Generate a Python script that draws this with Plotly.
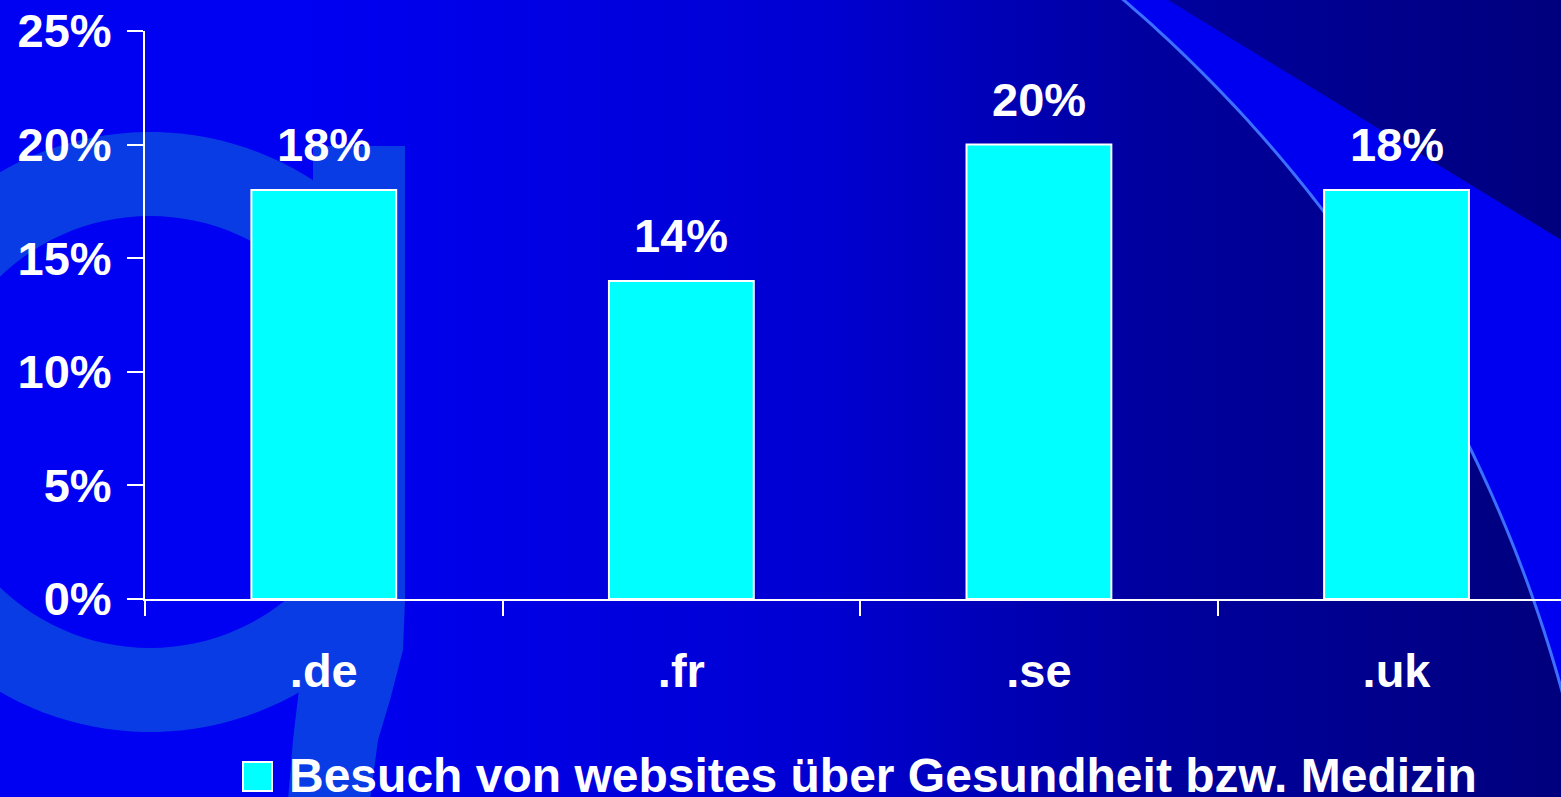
import math
import plotly.graph_objects as go

# ---------------- data ----------------
categories = [".de", ".fr", ".se", ".uk"]
values = [18, 14, 20, 18]
series_name = "Besuch von websites über Gesundheit bzw. Medizin"
y_ticks = [0, 5, 10, 15, 20, 25]
y_tick_labels = ["0%", "5%", "10%", "15%", "20%", "25%"]

# ---------------- layout geometry (pixels) ----------------
FW, FH = 1561, 797
L, R, T, B = 145, 1561, 31, 599
PW, PH = R - L, B - T


def px(x):
    return (x - L) / PW


def py(y):
    return (B - y) / PH


FONT = "Liberation Sans, Arial, Helvetica, sans-serif"
WHITE = "#FFFFFF"
CYAN = "#00FFFF"

shapes = []

# background horizontal gradient built from thin strips
grad_stops = [(0, 242), (300, 242), (820, 210), (1140, 160), (1530, 128), (1561, 126)]


def blue_at(x):
    for (x0, b0), (x1, b1) in zip(grad_stops[:-1], grad_stops[1:]):
        if x0 <= x <= x1:
            return b0 + (b1 - b0) * (x - x0) / (x1 - x0)
    return grad_stops[-1][1]


step = 8
for x in range(0, FW, step):
    b = int(round(blue_at(x + step / 2)))
    shapes.append(dict(type="rect", xref="paper", yref="paper", layer="below",
                       x0=px(x), x1=px(x + step + 1), y0=py(FH + 2), y1=py(-2),
                       fillcolor=f"rgb(0,0,{b})", line=dict(width=0)))

G_COLOR = "rgb(10,60,230)"
# "g" letter: bowl (annulus clipped at stem's right edge) + stem
cx, cy, ro, ri = 150, 432, 300, 216
stem_right = 405
a_lim = math.acos((stem_right - cx) / ro)
n = 120
outer = []
for i in range(n + 1):
    t = a_lim + (2 * math.pi - 2 * a_lim) * i / n
    outer.append((cx + ro * math.cos(t), cy - ro * math.sin(t)))
inner = []
for i in range(n + 1):
    t = 2 * math.pi * i / n
    inner.append((cx + ri * math.cos(-t), cy - ri * math.sin(-t)))


def path_of(pts, close=True):
    s = "M" + " L".join(f"{px(a):.5f},{py(b):.5f}" for a, b in pts)
    return s + (" Z" if close else "")


shapes.append(dict(type="path", xref="paper", yref="paper", layer="below",
                   path=path_of(outer) + " " + path_of(inner),
                   fillcolor=G_COLOR, line=dict(width=0)))
stem = [(313, 146), (405, 146), (405, 600), (403, 650), (390, 700), (378, 740),
        (370, 800), (288, 800), (293, 740), (303, 655), (313, 560)]
shapes.append(dict(type="path", xref="paper", yref="paper", layer="below",
                   path=path_of(stem), fillcolor=G_COLOR, line=dict(width=0)))

# top-right decorative swoosh
acx, acy, ar = 213, 1062, 1399
t0, t1 = math.radians(50.6), math.radians(13.8)
arc = []
m = 80
for i in range(m + 1):
    t = t0 + (t1 - t0) * i / m
    arc.append((acx + ar * math.cos(t), acy - ar * math.sin(t)))
slope = 0.61
x_top = 1168 + (arc[0][1]) / slope
wedge = arc + [(1620, arc[-1][1]), (1620, (1620 - 1168) * slope), (x_top, arc[0][1])]
shapes.append(dict(type="path", xref="paper", yref="paper", layer="below",
                   path=path_of(wedge), fillcolor="rgb(0,0,240)", line=dict(width=0)))
shapes.append(dict(type="path", xref="paper", yref="paper", layer="below",
                   path=path_of(arc, close=False), fillcolor="rgba(0,0,0,0)",
                   line=dict(width=3, color="rgb(60,110,255)")))

# manual legend key
shapes.append(dict(type="rect", xref="paper", yref="paper", layer="above",
                   x0=px(243), x1=px(272), y0=py(791), y1=py(762),
                   fillcolor=CYAN, line=dict(width=2, color=WHITE)))

fig = go.Figure()
fig.add_trace(go.Bar(
    x=categories, y=values, name=series_name, width=0.405,
    marker=dict(color=CYAN, line=dict(color=WHITE, width=2)),
    showlegend=False, hoverinfo="x+y",
))

annotations = []
for c, v in zip(categories, values):
    annotations.append(dict(x=c, y=v, xref="x", yref="y", text=f"{v}%",
                            showarrow=False, yanchor="bottom", yshift=17,
                            font=dict(family=FONT, size=47, color=WHITE, weight="bold")))
annotations.append(dict(x=px(287), y=py(776), xref="paper", yref="paper",
                        text=series_name, showarrow=False, xanchor="left", yanchor="middle",
                        font=dict(family=FONT, size=48, color=WHITE, weight="bold")))

fig.update_layout(
    width=FW, height=FH,
    margin=dict(l=L, r=FW - R, t=T, b=FH - B, pad=0),
    paper_bgcolor="rgb(0,0,200)",
    plot_bgcolor="rgba(0,0,0,0)",
    shapes=shapes,
    annotations=annotations,
    showlegend=False,
    bargap=0.6,
    font=dict(family=FONT, color=WHITE),
)
fig.update_xaxes(
    type="category", range=[-0.5, 3.46], tickson="boundaries",
    ticks="outside", ticklen=15, tickwidth=2, tickcolor=WHITE,
    showline=True, linecolor=WHITE, linewidth=2, showgrid=False, zeroline=False,
    ticklabelstandoff=30,
    tickfont=dict(family=FONT, size=47, color=WHITE, weight="bold"),
)
fig.update_yaxes(
    range=[0, 25], tickvals=y_ticks, ticktext=y_tick_labels,
    ticks="outside", ticklen=16, tickwidth=2, tickcolor=WHITE,
    showline=True, linecolor=WHITE, linewidth=2, showgrid=False, zeroline=False,
    ticklabelstandoff=6,
    tickfont=dict(family=FONT, size=47, color=WHITE, weight="bold"),
)

fig.write_html(
    "out.html",
    config={"displayModeBar": False},
    post_script="document.body.style.margin='0';document.body.style.padding='0';"
                "document.body.style.overflow='hidden';",
)
